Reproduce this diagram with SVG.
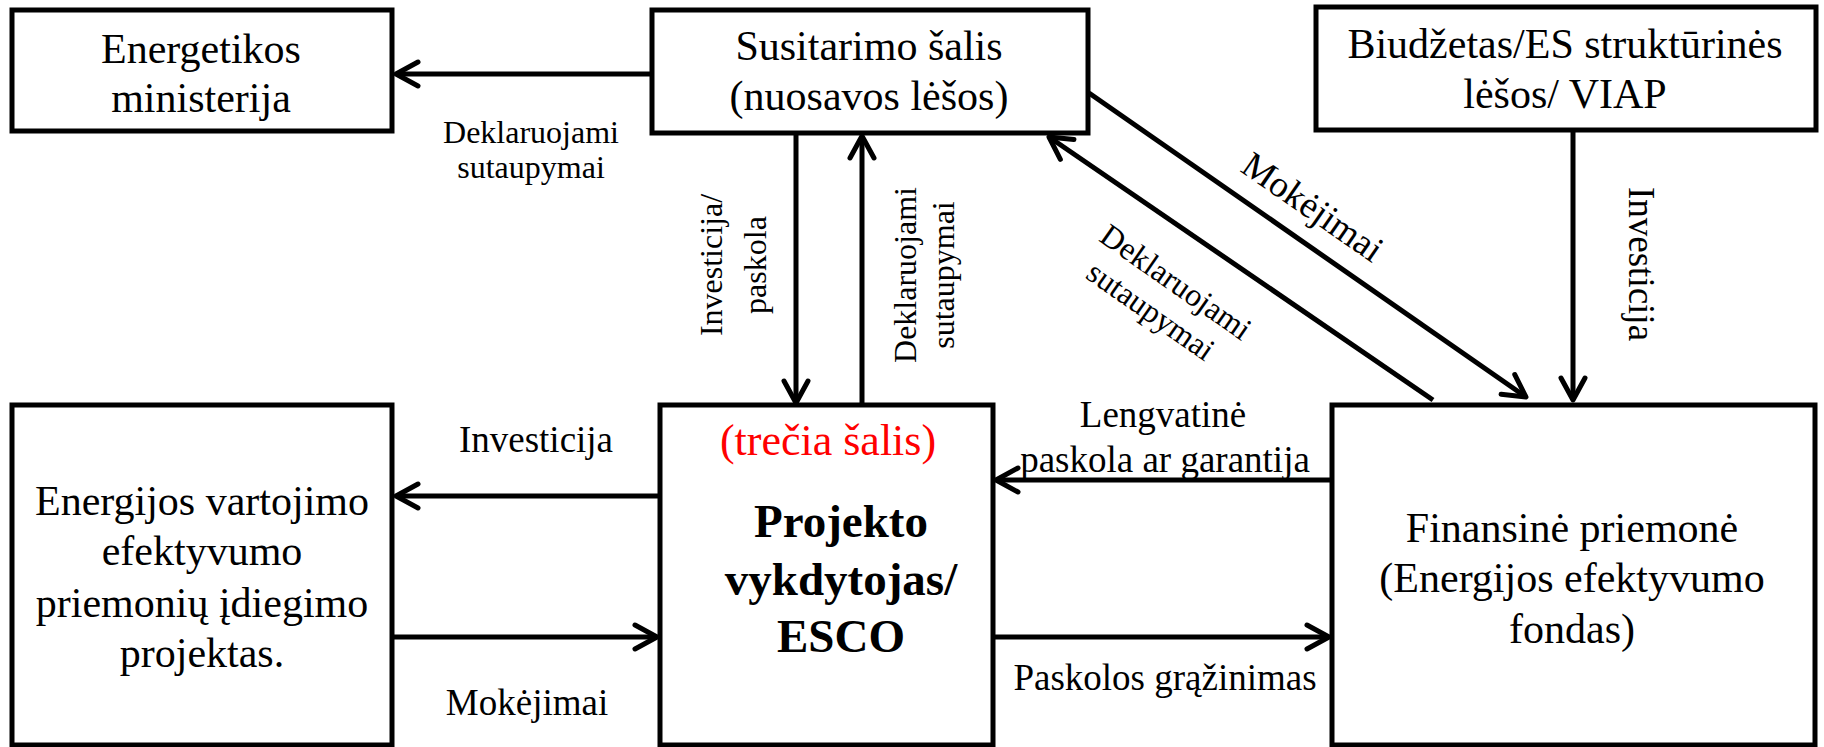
<svg xmlns="http://www.w3.org/2000/svg" width="1824" height="747" viewBox="0 0 1824 747">
<style>
.box{fill:#fff;stroke:#000;stroke-width:5}
.t{font-family:"Liberation Serif","Times New Roman",serif;font-size:42px;fill:#000;text-anchor:middle}
.b{font-weight:bold;font-size:47px}
.red{fill:#ff0000;font-size:44px}
.lab{font-family:"Liberation Serif","Times New Roman",serif;font-size:37px;fill:#000;text-anchor:middle}
.sm{font-size:32px}
.c{fill:none;stroke:#000;stroke-width:5;marker-end:url(#arr)}
</style>
<defs>
<marker id="arr" markerUnits="userSpaceOnUse" markerWidth="40" markerHeight="40" viewBox="-30 -20 40 40" refX="0" refY="0" orient="auto">
<path d="M -22 -12 L 0 0 L -22 12" fill="none" stroke="#000" stroke-width="5" stroke-linecap="round" stroke-linejoin="round"/>
</marker>
</defs>
<rect width="1824" height="747" fill="#fff"/>
<g id="connectors">
<path class="c" d="M 652 74 L 396 74"/>
<path class="c" d="M 796 133 L 796 403"/>
<path class="c" d="M 862 405 L 862 136"/>
<path class="c" d="M 1089 93 L 1526 397"/>
<path class="c" d="M 1433 400 L 1049 137"/>
<path class="c" d="M 1573 130 L 1573 400"/>
<path class="c" d="M 660 496 L 396 496"/>
<path class="c" d="M 392 637 L 657 637"/>
<path class="c" d="M 1332 480 L 996 480"/>
<path class="c" d="M 993 637 L 1329 637"/>
<text class="lab sm" x="531" y="143">Deklaruojami</text>
<text class="lab sm" x="531" y="178">sutaupymai</text>
<g transform="translate(722,265) rotate(-90)">
<text class="lab sm" x="0" y="0">Investicija/</text>
<text class="lab sm" x="0" y="44">paskola</text>
</g>
<g transform="translate(916,275) rotate(-90)">
<text class="lab sm" x="0" y="0">Deklaruojami</text>
<text class="lab sm" x="0" y="38">sutaupymai</text>
</g>
<g transform="translate(1312,208) rotate(34.7)">
<text class="lab" x="0" y="11">Mokėjimai</text>
</g>
<g transform="translate(1163,297) rotate(35)">
<text class="lab sm" x="2" y="-9">Deklaruojami</text>
<text class="lab sm" x="-2" y="29">sutaupymai</text>
</g>
<g transform="translate(1629,264) rotate(90)">
<text class="lab" x="0" y="0">Investicija</text>
</g>
<text class="lab" x="536" y="452">Investicija</text>
<text class="lab" x="527" y="715">Mokėjimai</text>
<text class="lab" x="1163" y="427">Lengvatinė</text>
<text class="lab" x="1165" y="472">paskola ar garantija</text>
<text class="lab" x="1165" y="690">Paskolos grąžinimas</text>
</g>
<g id="energetikos">
<rect class="box" x="12" y="10" width="380" height="121"/>
<text class="t" x="201" y="63">Energetikos</text>
<text class="t" x="201" y="112">ministerija</text>
</g>
<g id="susitarimo">
<rect class="box" x="652" y="10" width="436" height="123"/>
<text class="t" x="869" y="60">Susitarimo šalis</text>
<text class="t" x="869" y="110">(nuosavos lėšos)</text>
</g>
<g id="biudzetas">
<rect class="box" x="1316" y="7" width="500" height="123"/>
<text class="t" x="1565" y="58">Biudžetas/ES struktūrinės</text>
<text class="t" x="1565" y="108">lėšos/ VIAP</text>
</g>
<g id="projektas">
<rect class="box" x="12" y="405" width="380" height="340"/>
<text class="t" x="202" y="515">Energijos vartojimo</text>
<text class="t" x="202" y="565">efektyvumo</text>
<text class="t" x="202" y="617">priemonių įdiegimo</text>
<text class="t" x="202" y="667">projektas.</text>
</g>
<g id="esco">
<rect class="box" x="660" y="405" width="333" height="340"/>
<text class="t red" x="828" y="455">(trečia šalis)</text>
<text class="t b" x="841" y="537">Projekto</text>
<text class="t b" x="841" y="595">vykdytojas/</text>
<text class="t b" x="841" y="652">ESCO</text>
</g>
<g id="finansine">
<rect class="box" x="1332" y="405" width="483" height="340"/>
<text class="t" x="1572" y="542">Finansinė priemonė</text>
<text class="t" x="1572" y="592">(Energijos efektyvumo</text>
<text class="t" x="1572" y="643">fondas)</text>
</g>
</svg>
